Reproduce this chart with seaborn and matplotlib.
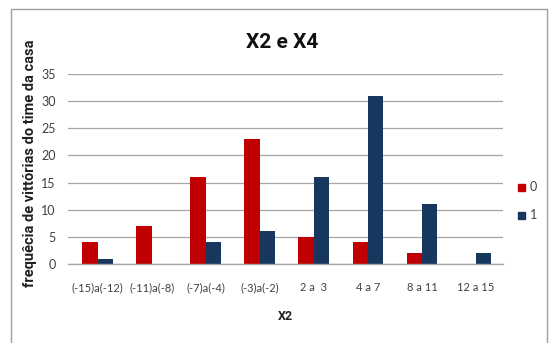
import matplotlib
matplotlib.use("Agg")
import matplotlib.pyplot as plt
from matplotlib.patches import Rectangle
import seaborn as sns
import pandas as pd

# Frequency of home-team wins by X2 interval, split by X4
categories = ["(-15)a(-12)", "(-11)a(-8)", "(-7)a(-4)", "(-3)a(-2)",
              "2 a  3", "4 a 7", "8 a 11", "12 a 15"]
x4_groups = ["0", "1"]
freq_x4_0 = [4, 7, 16, 23, 5, 4, 2, 0]
freq_x4_1 = [1, 0, 4, 6, 16, 31, 11, 2]
y_ticks = [0, 5, 10, 15, 20, 25, 30, 35]

df = pd.DataFrame({
    "X2": categories * 2,
    "X4": [x4_groups[0]] * len(categories) + [x4_groups[1]] * len(categories),
    "freq": freq_x4_0 + freq_x4_1,
})

sns.set_theme(style="white")
plt.rcParams["font.family"] = ["Lato", "DejaVu Sans"]
bold_family = ["Roboto", "DejaVu Sans"]

colors = {"0": "#C00000", "1": "#17375E"}

fig = plt.figure(figsize=(5.5, 3.43), dpi=100)
ax = fig.add_axes([68 / 550, 1 - 264 / 343, (503 - 68) / 550, (264 - 74) / 343])

sns.barplot(data=df, x="X2", y="freq", hue="X4", order=categories,
            hue_order=x4_groups, palette=colors, width=0.57, ax=ax,
            saturation=1, legend=False, edgecolor="none")

ax.set_ylim(0, 35)
ax.set_yticks(y_ticks)
ax.set_xlim(-0.55, len(categories) - 0.5)
ax.yaxis.grid(True, color="#A6A6A6", linewidth=0.9)
ax.set_axisbelow(True)
for side in ["top", "right", "left"]:
    ax.spines[side].set_visible(False)
ax.spines["bottom"].set_color("#A6A6A6")
ax.spines["bottom"].set_linewidth(1.0)
ax.tick_params(axis="both", length=0, colors="#404040")
ax.tick_params(axis="x", pad=13, labelsize=8)
ax.tick_params(axis="y", pad=9, labelsize=9)

ax.set_xlabel("X2", fontsize=9, fontweight="bold", color="#202020",
              labelpad=12, family=bold_family)
ax.set_ylabel("frequêcia de vittórias do time da casa", fontsize=10.5,
              fontweight="bold", color="#202020", family=bold_family)
ax.yaxis.set_label_coords((37 - 68) / 435, (264 - 163) / 190)

fig.text(282 / 550, 1 - 42 / 343, "X2 e X4", ha="center", va="center",
         fontsize=15, fontweight="bold", color="#111111", family=bold_family)

# Legend outside the plot on the right
for i, g in enumerate(x4_groups):
    yc = 1 - (187 + 28 * i) / 343
    fig.patches.append(Rectangle((518 / 550, yc - 3.5 / 343), 7 / 550, 7 / 343,
                                 transform=fig.transFigure, color=colors[g]))
    fig.text(530 / 550, yc, g, ha="left", va="center", fontsize=9,
             color="#404040")

# Chart frame
fig.patches.append(Rectangle((11 / 550, -0.05), (547 - 11) / 550, 1.05 - 9 / 343,
                             transform=fig.transFigure, fill=False,
                             edgecolor="#A0A0A0", linewidth=1.0))

fig.savefig("out.png", dpi=100)
